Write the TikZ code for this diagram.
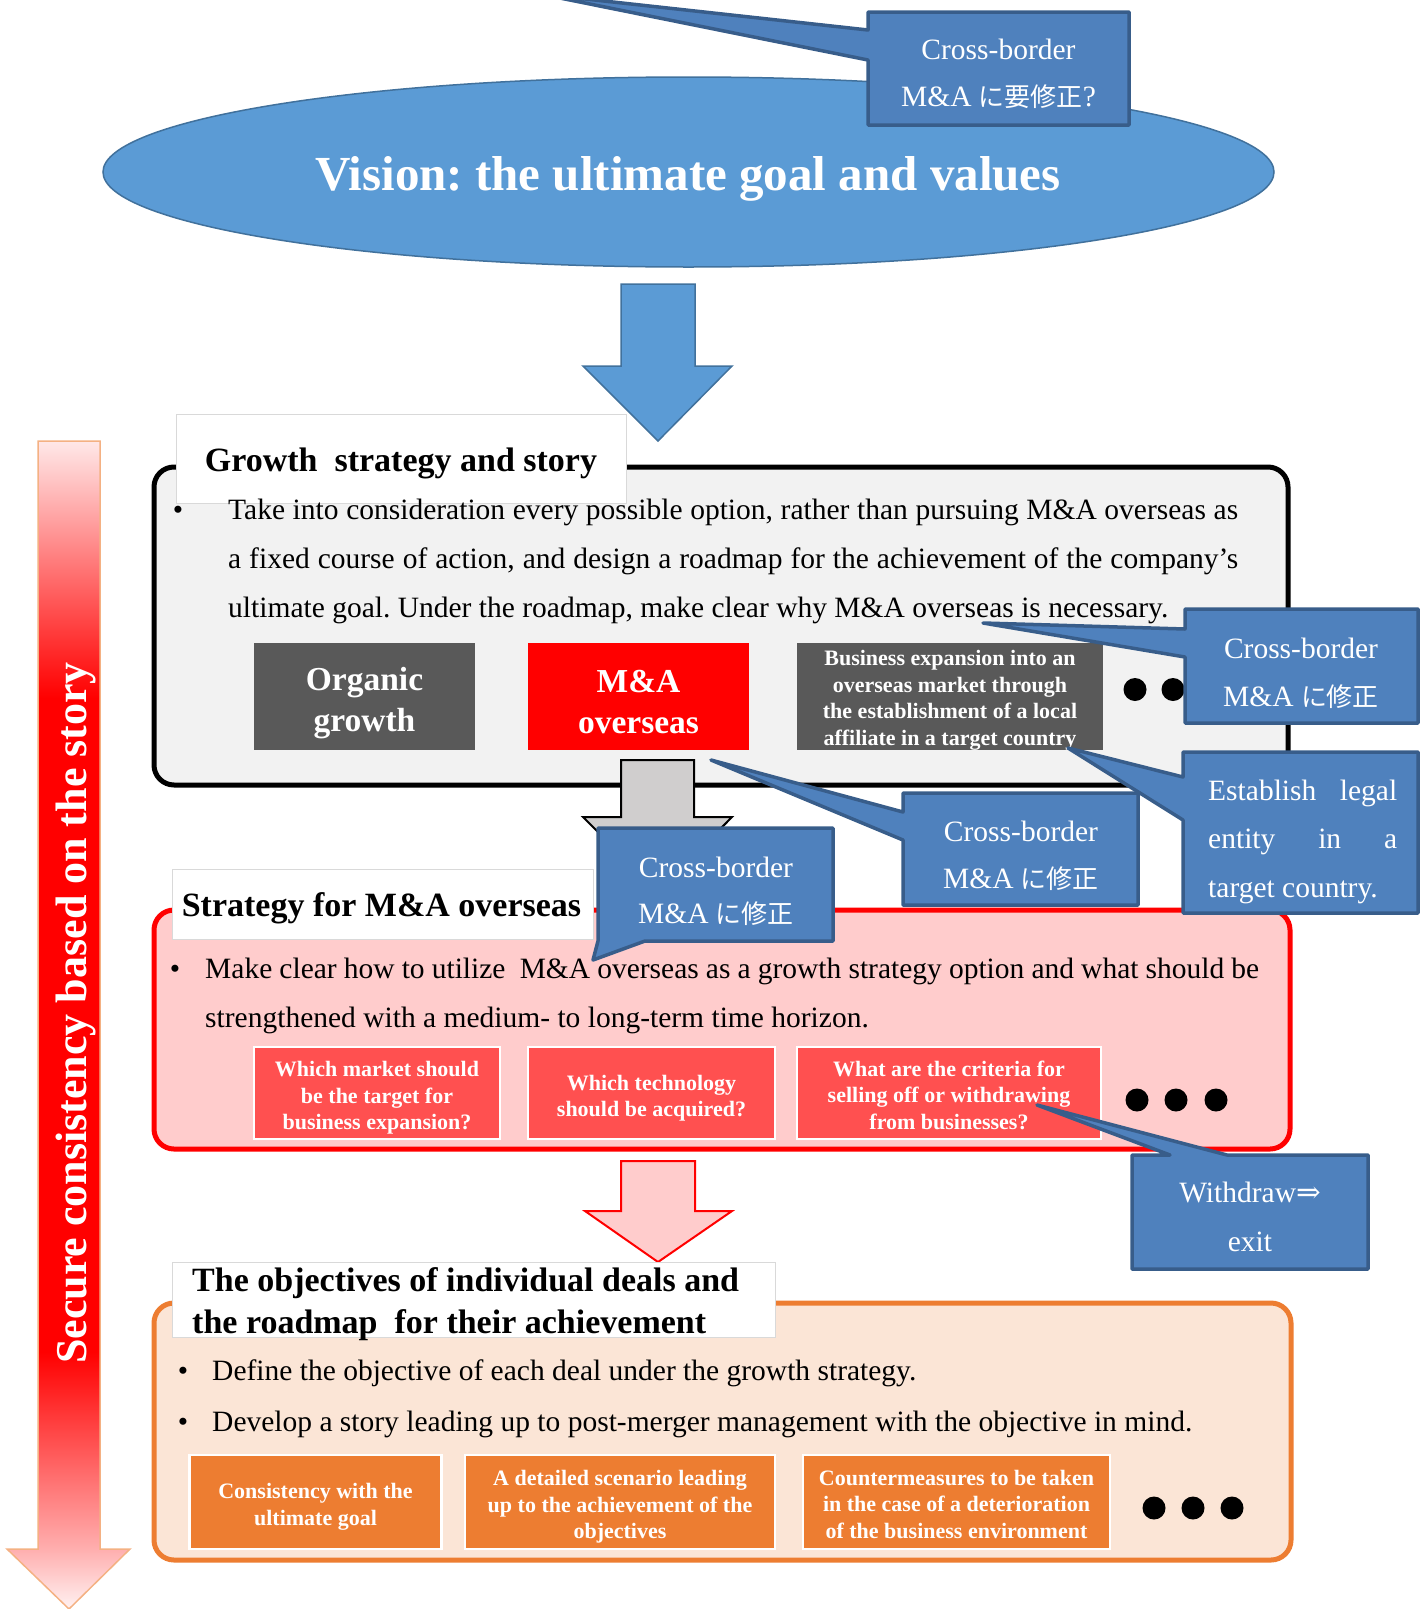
\documentclass[tikz,border=0pt]{standalone}
\usepackage{fontspec}
\setmainfont{Liberation Serif}
\newfontfamily\jpfont{Noto Sans CJK JP}[Scale=0.88]
\newfontfamily\arrowfont{DejaVu Serif}
\usetikzlibrary{calc,shapes.geometric}
\definecolor{visblue}{HTML}{5B9BD5}
\definecolor{visborder}{HTML}{41719C}
\definecolor{cofill}{HTML}{4F81BD}
\definecolor{coborder}{HTML}{385D8A}
\definecolor{boxgray}{HTML}{595959}
\definecolor{secAfill}{HTML}{F2F2F2}
\definecolor{secBfill}{HTML}{FFCCCC}
\definecolor{secBbox}{HTML}{FF5050}
\definecolor{secCfill}{HTML}{FBE5D6}
\definecolor{secCborder}{HTML}{ED7D31}
\definecolor{arrowgray}{HTML}{D0CECE}
\definecolor{arrowedge}{HTML}{F4B183}
\definecolor{fadetop}{HTML}{FFE8E8}
\definecolor{fadehead}{HTML}{FFB0B0}
\definecolor{fadetip}{HTML}{FFF2F2}
\pgfdeclareverticalshading{redfade}{100bp}{color(0bp)=(fadetip); color(25bp)=(fadetip); color(27.5bp)=(fadehead); color(36bp)=(red); color(64bp)=(red); color(75bp)=(fadetop); color(100bp)=(fadetop)}
\begin{document}
\frenchspacing
\begin{tikzpicture}[x=1pt,y=-1pt,
  callout/.style={fill=cofill,draw=coborder,line width=3.5pt,line join=round},
  cotext/.style={text=white,font=\fontsize{29.5}{47}\selectfont,inner sep=0pt,anchor=base},
  secbox/.style={line width=5pt,rounded corners=20pt},
  titlebox/.style={fill=white,draw=black!15,line width=1pt},
  titletext/.style={font=\fontsize{34}{42}\selectfont\bfseries,inner sep=0pt},
  body/.style={font=\fontsize{29.5}{49}\selectfont,inner sep=0pt,anchor=base west},
  bul/.style={font=\fontsize{29.5}{49}\selectfont,inner sep=0pt,anchor=base},
  plainbox/.style={inner sep=0pt},
  qbox/.style={plainbox,draw=white,line width=2.5pt},
  bigtext/.style={text=white,font=\fontsize{33.5}{41}\selectfont\bfseries,align=center,inner sep=0pt},
  smalltext/.style={text=white,font=\fontsize{22}{26.5}\selectfont\bfseries,align=center,inner sep=0pt},
  blackdot/.style={circle,fill=black,minimum size=23pt,inner sep=0pt},
  blockarrow/.style={line width=2pt,line join=miter}
]
\useasboundingbox (0,0) rectangle (1421,1609);

% ---------- left vertical arrow ----------
\shadedraw[shading=redfade,draw=arrowedge,line width=1.5pt]
  (38,441) -- (100,441) -- (100,1549) -- (130,1549) -- (69,1609) -- (7,1549) -- (38,1549) -- cycle;
\node[rotate=90,anchor=base,text=white,font=\fontsize{44}{50}\selectfont\bfseries,inner sep=0pt]
  (sidetext) at (86,1013) {Secure consistency based on the story};

% ---------- vision ----------
\node[ellipse,minimum width=1171pt,minimum height=190pt,fill=visblue,draw=visborder,line width=1.5pt]
  (vision) at (688.5,172) {};
\node[anchor=base,text=white,font=\fontsize{49}{60}\selectfont\bfseries,inner sep=0pt]
  (vistext) at (688,190) {Vision: the ultimate goal and values};

% blue arrow
\filldraw[blockarrow,fill=visblue,draw=visborder,line width=1.5pt]
  (621,284) -- (695,284) -- (695,366) -- (732,366) -- (658,441) -- (583,366) -- (621,366) -- cycle;

% ---------- section A ----------
\node[secbox,draw=black,fill=secAfill,minimum width=1134pt,minimum height=318pt] (secA) at (721,626) {};
\node[titlebox,minimum width=450pt,minimum height=89pt] (titleA) at (401,458.5) {};
\node[titletext,anchor=base] (titleAtext) at (401,471) {Growth\ \ strategy and story};
\node[bul] (bulA) at (178,519) {•};
\node[body] (a1) at (228,519) {\makebox[1010pt][s]{Take into consideration every possible option, rather than pursuing M\&A overseas as}};
\node[body] (a2) at (228,568) {\makebox[1010pt][s]{a fixed course of action, and design a roadmap for the achievement of the company’s}};
\node[body] (a3) at (228,617) {ultimate goal. Under the roadmap, make clear why M\&A overseas is necessary.};
\node[plainbox,fill=boxgray,minimum width=221pt,minimum height=107pt] (organic) at (364.5,696.5) {};
\node[bigtext] (organict) at ($(organic.center)+(0,7)$) {Organic\\growth};
\node[plainbox,fill=red,minimum width=221pt,minimum height=107pt] (mna) at (638.5,696.5) {};
\node[bigtext] (mnat) at ($(mna.center)+(0,6)$) {M\&A\\overseas};
\node[plainbox,fill=boxgray,minimum width=306pt,minimum height=107pt] (bizexp) at (950,696.5) {};
\node[smalltext] (bizexpt) at ($(bizexp.center)+(0,4)$)
  {Business expansion into an\\overseas market through\\the establishment of a local\\affiliate in a target country};
\node[blackdot] (dA1) at (1135,689.5) {};
\node[blackdot] (dA2) at (1173,689.5) {};

% gray arrow
\filldraw[blockarrow,fill=arrowgray,draw=black]
  (621,760) -- (694,760) -- (694,817) -- (732,817) -- (658,892) -- (583,817) -- (621,817) -- cycle;

% ---------- section B ----------
\node[secbox,draw=red,fill=secBfill,minimum width=1136pt,minimum height=239pt] (secB) at (722,1029.5) {};
\node[titlebox,minimum width=421pt,minimum height=70pt] (titleB) at (382.5,904) {};
\node[titletext,anchor=base] (titleBtext) at (381.5,916) {Strategy for M\&A overseas};
\node[bul] (bulB) at (175,978) {•};
\node[body] (b1) at (205,978) {\makebox[1054pt][s]{Make clear how to utilize\ \ M\&A overseas as a growth strategy option and what should be}};
\node[body] (b2) at (205,1027) {strengthened with a medium- to long-term time horizon.};
\node[qbox,fill=secBbox,minimum width=246pt,minimum height=92pt] (q1) at (377,1093) {};
\node[smalltext] (q1t) at ($(q1.center)+(0,5)$) {Which market should\\be the target for\\business expansion?};
\node[qbox,fill=secBbox,minimum width=247pt,minimum height=92pt] (q2) at (651.5,1093) {};
\node[smalltext] (q2t) at ($(q2.center)+(0,5)$) {Which technology\\should be acquired?};
\node[qbox,fill=secBbox,minimum width=304pt,minimum height=92pt] (q3) at (949,1093) {};
\node[smalltext] (q3t) at ($(q3.center)+(0,2)$) {What are the criteria for\\selling off or withdrawing\\from businesses?};
\node[blackdot] (dB1) at (1137,1100) {};
\node[blackdot] (dB2) at (1176,1100) {};
\node[blackdot] (dB3) at (1216,1100) {};

% pink arrow
\filldraw[blockarrow,fill=secBfill,draw=red]
  (621,1161) -- (695,1161) -- (695,1211) -- (732,1211) -- (658,1262) -- (585,1211) -- (621,1211) -- cycle;

% ---------- section C ----------
\node[secbox,draw=secCborder,fill=secCfill,minimum width=1137pt,minimum height=257pt] (secC) at (722.5,1431.5) {};
\node[titlebox,minimum width=603pt,minimum height=75pt] (titleC) at (473.5,1299.5) {};
\node[titletext,anchor=base west] (titleC1) at (192,1291) {The objectives of individual deals and};
\node[titletext,anchor=base west] (titleC2) at (192,1333) {the roadmap\ \ for their achievement};
\node[bul] (bulC1) at (183,1380) {•};
\node[body] (c1) at (212,1380) {Define the objective of each deal under the growth strategy.};
\node[bul] (bulC2) at (183,1431) {•};
\node[body] (c2) at (212,1431) {Develop a story leading up to post-merger management with the objective in mind.};
\node[qbox,fill=secCborder,minimum width=252pt,minimum height=94pt] (o1) at (315.5,1502) {};
\node[smalltext] (o1t) at ($(o1.center)+(0,5)$) {Consistency with the\\ultimate goal};
\node[qbox,fill=secCborder,minimum width=310pt,minimum height=94pt] (o2) at (620,1502) {};
\node[smalltext] (o2t) at ($(o2.center)+(0,5)$) {A detailed scenario leading\\up to the achievement of the\\objectives};
\node[qbox,fill=secCborder,minimum width=307pt,minimum height=94pt] (o3) at (956.5,1502) {};
\node[smalltext] (o3t) at ($(o3.center)+(0,2)$) {Countermeasures to be taken\\in the case of a deterioration\\of the business environment};
\node[blackdot] (dC1) at (1154,1508) {};
\node[blackdot] (dC2) at (1193,1508) {};
\node[blackdot] (dC3) at (1232,1508) {};

% ---------- callouts ----------
% top
\filldraw[callout] (868,12) -- (868,30) -- (540,-6) -- (868,60) -- (868,125) -- (1129,125) -- (1129,12) -- cycle;
\node[cotext] (ct1) at (998.5,59) {Cross-border};
\node[cotext] (ct2) at (998.5,106) {M\&A {\jpfont に要修正}?};
% right 1
\filldraw[callout] (1185,609) -- (1185,629) -- (983,623) -- (1185,657) -- (1185,723) -- (1418,723) -- (1418,609) -- cycle;
\node[cotext] (cr11) at (1301,658) {Cross-border};
\node[cotext] (cr12) at (1301,706) {M\&A {\jpfont に修正}};
% middle right
\filldraw[callout] (903,793) -- (903,812) -- (711,760) -- (903,840) -- (903,905) -- (1138,905) -- (1138,793) -- cycle;
\node[cotext] (cm21) at (1021,841) {Cross-border};
\node[cotext] (cm22) at (1021,888) {M\&A {\jpfont に修正}};
% middle left
\filldraw[callout] (598,828) -- (598,941) -- (593,960) -- (645,941) -- (833,941) -- (833,828) -- cycle;
\node[cotext] (cm11) at (716,877) {Cross-border};
\node[cotext] (cm12) at (716,923) {M\&A {\jpfont に修正}};
% establish
\filldraw[callout] (1183,752) -- (1183,777) -- (1068,748) -- (1183,820) -- (1183,913) -- (1418,913) -- (1418,752) -- cycle;
\node[cotext,anchor=base west] (ce1) at (1208,800) {\makebox[189pt][s]{Establish legal}};
\node[cotext,anchor=base west] (ce2) at (1208,848) {\makebox[189pt][s]{entity in a}};
\node[cotext,anchor=base west] (ce3) at (1208,897) {target country.};
% withdraw
\filldraw[callout] (1132,1155) -- (1170,1155) -- (1037,1105) -- (1227,1155) -- (1368,1155) -- (1368,1269) -- (1132,1269) -- cycle;
\node[cotext] (cw1) at (1250,1202) {Withdraw{\arrowfont ⇒}};
\node[cotext] (cw2) at (1250,1251) {exit};
\end{tikzpicture}
\end{document}
